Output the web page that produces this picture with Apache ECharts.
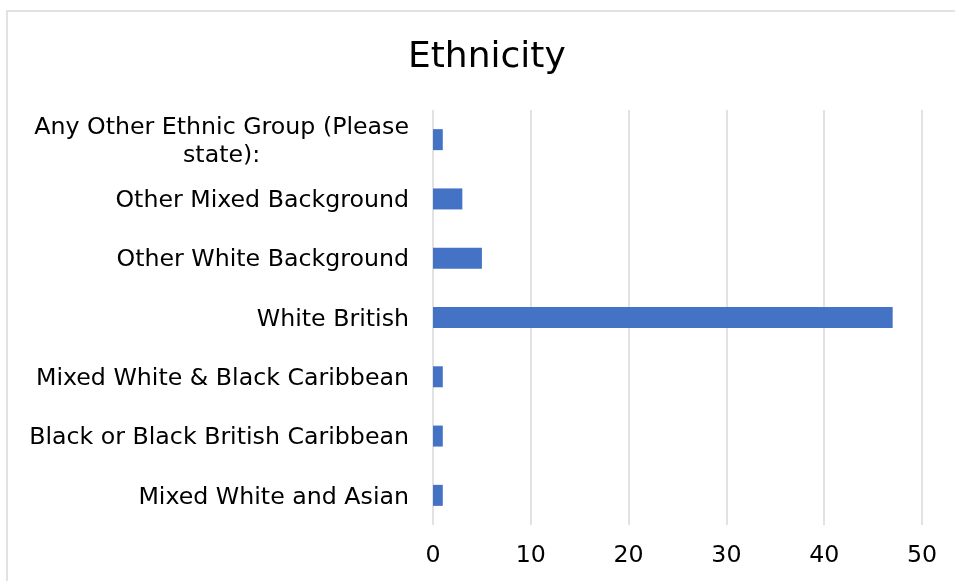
<!DOCTYPE html>
<html>
<head>
<meta charset="utf-8">
<title>Ethnicity</title>
<script src="https://cdn.jsdelivr.net/npm/echarts@6/dist/echarts.min.js"></script>
<style>
  html, body { margin: 0; padding: 0; background: #fff; }
  #chart { width: 955px; height: 581px; }
</style>
</head>
<body>
<div id="chart"></div>
<script>
// Categories listed bottom to top, as the category axis places them
const categories = [
  'Mixed White and Asian',
  'Black or Black British Caribbean',
  'Mixed White & Black Caribbean',
  'White British',
  'Other White Background',
  'Other Mixed Background',
  'Any Other Ethnic Group (Please\nstate):'
];
const counts = [1, 1, 1, 47, 5, 3, 1];
const xTicks = [0, 10, 20, 30, 40, 50];

const FONT = '"DejaVu Sans", Verdana, sans-serif';
const LABEL_SIZE = 23.7;

const chart = echarts.init(document.getElementById('chart'), null, { renderer: 'canvas' });

chart.setOption({
  animation: false,
  backgroundColor: '#fff',
  title: {
    text: 'Ethnicity',
    left: 403,
    top: 35,
    textStyle: { fontFamily: FONT, fontSize: 36, fontWeight: 'normal', color: '#000' }
  },
  graphic: [{
    type: 'rect',
    shape: { x: 7, y: 11, width: 960, height: 590 },
    style: { fill: 'none', stroke: '#d9d9d9', lineWidth: 1.5 },
    silent: true
  }],
  grid: { left: 433, right: 33, top: 110, bottom: 56, containLabel: false },
  xAxis: {
    type: 'value',
    min: xTicks[0],
    max: xTicks[xTicks.length - 1],
    interval: xTicks[1] - xTicks[0],
    axisLine: { show: false },
    axisTick: { show: false },
    splitLine: { show: true, lineStyle: { color: '#d9d9d9', width: 1.5 } },
    axisLabel: { fontFamily: FONT, fontSize: LABEL_SIZE, color: '#000', margin: 19 }
  },
  yAxis: {
    type: 'category',
    data: categories,
    axisLine: { show: false },
    axisTick: { show: false },
    splitLine: { show: false },
    axisLabel: {
      fontFamily: FONT,
      fontSize: LABEL_SIZE,
      color: '#000',
      margin: 24,
      padding: [4, 0, 0, 0],
      formatter: function (v) {
        const lines = v.split('\n');
        if (lines.length === 1) return v;
        return lines.map(function (l, i) {
          return (i === 0 ? '{a|' : '{c|') + l + '}';
        }).join('\n');
      },
      rich: {
        a: { fontFamily: FONT, fontSize: LABEL_SIZE, color: '#000', lineHeight: 28, align: 'right' },
        c: { fontFamily: FONT, fontSize: LABEL_SIZE, color: '#000', lineHeight: 28, align: 'center' }
      }
    }
  },
  series: [{
    type: 'bar',
    data: counts,
    barWidth: 21,
    itemStyle: { color: '#4472C4' }
  }]
});
</script>
</body>
</html>
